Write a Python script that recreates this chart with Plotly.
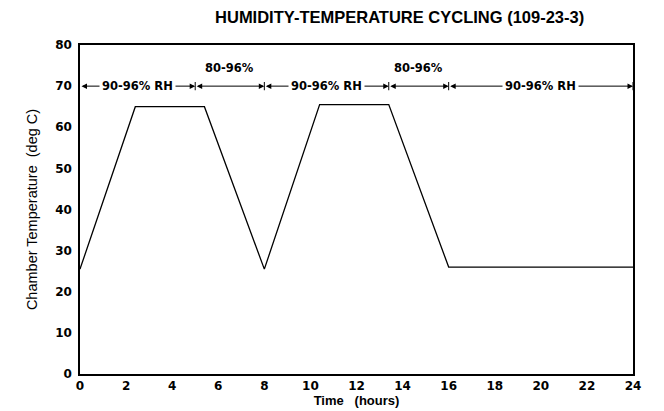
import plotly.graph_objects as go

# Temperature profile (hours, deg C)
time_h = [0, 2.4, 5.4, 8, 10.4, 13.4, 16, 24]
temp_c = [25.5, 65, 65, 25.5, 65.5, 65.5, 26, 26]

# Humidity segments along the top
seg_start = [0, 5, 8, 13.4, 16]
seg_end = [5, 8, 13.4, 16, 24]
seg_label = ["90-96% RH", "80-96%", "90-96% RH", "80-96%", "90-96% RH"]
seg_above = [False, True, False, True, False]
rh_level = 70

x_ticks = [0, 2, 4, 6, 8, 10, 12, 14, 16, 18, 20, 22, 24]
y_ticks = [0, 10, 20, 30, 40, 50, 60, 70, 80]

FONT = "Liberation Sans"
BOLD = "DejaVu Sans"

fig = go.Figure()
fig.add_trace(go.Scatter(x=time_h, y=temp_c, mode="lines",
                         line=dict(color="black", width=1.3),
                         hoverinfo="skip", showlegend=False))

anns = []
shapes = []
for s, e, lab, above in zip(seg_start, seg_end, seg_label, seg_above):
    anns.append(dict(x=e, y=rh_level, ax=s, ay=rh_level, xref="x", yref="y",
                     axref="x", ayref="y", text="", showarrow=True,
                     arrowhead=2, startarrowhead=2, arrowside="end+start",
                     arrowsize=1.1, arrowwidth=1, arrowcolor="black"))
    mid = (s + e) / 2
    if above:
        anns.append(dict(x=mid, y=rh_level, xref="x", yref="y", text="<b>%s</b>" % lab,
                         showarrow=False, yshift=18,
                         font=dict(family=BOLD, size=11.5, color="black")))
    else:
        anns.append(dict(x=mid, y=rh_level, xref="x", yref="y", text="<b>%s</b>" % lab,
                         showarrow=False, bgcolor="white", borderpad=2,
                         font=dict(family=BOLD, size=11.5, color="black")))
for b in seg_start[1:] + [seg_end[-1]]:
    shapes.append(dict(type="line", xref="x", yref="y", x0=b, x1=b,
                       y0=rh_level - 1, y1=rh_level + 1,
                       line=dict(color="black", width=1)))

fig.update_layout(
    width=656, height=403,
    margin=dict(l=72, r=31, t=37, b=37, autoexpand=False),
    paper_bgcolor="white", plot_bgcolor="white",
    title=dict(text="<b>HUMIDITY-TEMPERATURE CYCLING (109-23-3)</b>",
               x=0.597, xanchor="center", y=0.977, yanchor="middle",
               font=dict(family=FONT, size=16.5, color="black")),
    annotations=anns, shapes=shapes,
    xaxis=dict(range=[0, 24], tickvals=x_ticks, ticktext=["<b>%d</b>" % v for v in x_ticks],
               showgrid=False, zeroline=False, showline=True, mirror=True, automargin=False,
               linecolor="black", linewidth=1.5, ticks="", ticklen=0,
               tickfont=dict(family=BOLD, size=12, color="black"),
               title=dict(text="<b>Time   (hours)</b>", standoff=0,
                          font=dict(family=FONT, size=13, color="black"))),
    yaxis=dict(range=[0, 80], tickvals=y_ticks, ticktext=["<b>%d</b>" % v for v in y_ticks],
               showgrid=False, zeroline=False, showline=True, mirror=True, automargin=False,
               linecolor="black", linewidth=1.5, ticks="", ticklen=0, ticklabelstandoff=4,
               tickfont=dict(family=BOLD, size=12, color="black"),
               title=dict(text="Chamber Temperature  (deg C)", standoff=14,
                          font=dict(family="Liberation Sans Narrow, " + FONT, size=14.5, color="black"))),
)

fig.write_html("out.html")
